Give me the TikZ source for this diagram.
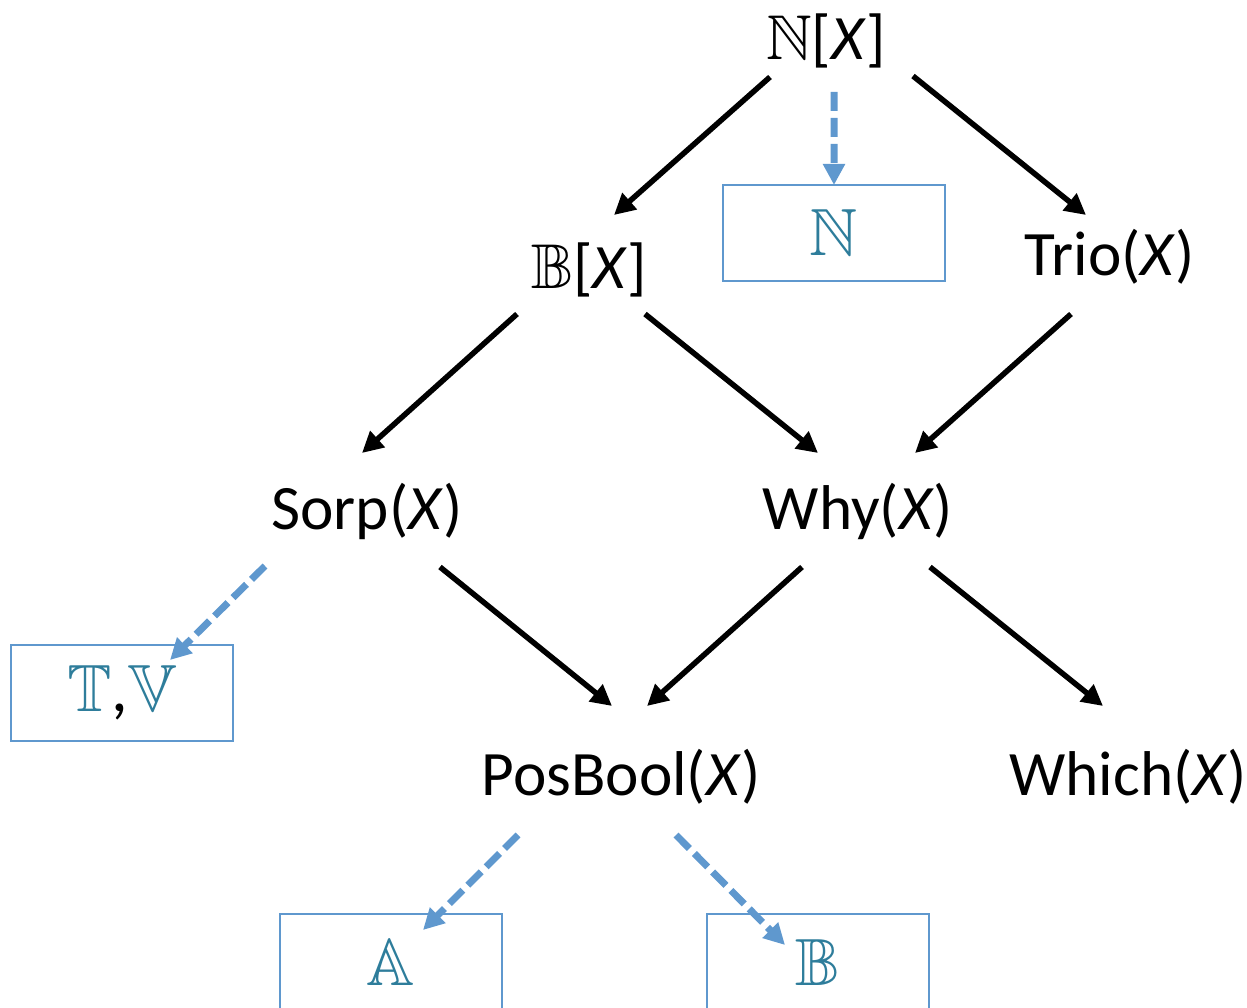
\documentclass[tikz,border=0pt]{standalone}
\usepackage{amssymb}
\usepackage{fontspec}
\setmainfont{Carlito}
\usetikzlibrary{arrows.meta}
\definecolor{lineblue}{RGB}{95,152,206}
\definecolor{textteal}{RGB}{46,125,155}

\begin{document}
\begin{tikzpicture}[inner sep=0, outer sep=0,
    lbl/.style={font=\fontsize{18}{22}\selectfont},
    semibox/.style={rectangle, draw=lineblue, line width=0.02cm,
      minimum width=2.22cm, minimum height=0.96cm,
      text=textteal, font=\fontsize{19}{22}\selectfont},
    arr/.style={-{Triangle[length=0.21cm,width=0.21cm]}, line width=0.055cm, black},
    darr/.style={-{Triangle[length=0.21cm,width=0.21cm]}, line width=0.07cm, lineblue,
      dash pattern=on 0.19cm off 0.07cm}]
  \useasboundingbox (0,0) rectangle (12.47,-10.08);

  \node[lbl] (nx) at (8.26, -0.41) {$\mathbb{N}$[\textit{X}]};
  \node[semibox] (nbox) at (8.34, -2.33) {$\mathbb{N}$};
  \node[lbl] (bx) at (5.89, -2.70) {$\mathbb{B}$[\textit{X}]};
  \node[lbl] (trio) at (11.10, -2.57) {Trio(\textit{X})};
  \node[lbl] (sorp) at (3.67, -5.11) {Sorp(\textit{X})};
  \node[lbl] (why) at (8.58, -5.11) {Why(\textit{X})};
  \node[semibox] (tvbox) at (1.22, -6.93) {$\mathbb{T}${\color{black},}$\mathbb{V}$};
  \node[lbl] (posbool) at (6.21, -7.77) {PosBool(\textit{X})};
  \node[lbl] (which) at (11.28, -7.77) {Which(\textit{X})};
  \node[semibox] (abox) at (3.91, -9.62) {$\mathbb{A}$};
  \node[semibox] (bbox) at (8.18, -9.62) {$\mathbb{B}$};

  % solid arrows
  \draw[arr] ([shift={(-0.56,-0.36)}]nx.center) -- ([shift={(0.25,0.55)}]bx.center);
  \draw[arr] ([shift={(0.87,-0.35)}]nx.center) -- ([shift={(-0.24,0.42)}]trio.center);
  \draw[arr] ([shift={(-0.72,-0.44)}]bx.center) -- ([shift={(-0.05,0.58)}]sorp.center);
  \draw[arr] ([shift={(0.56,-0.44)}]bx.center) -- ([shift={(-0.40,0.58)}]why.center);
  \draw[arr] ([shift={(-0.39,-0.57)}]trio.center) -- ([shift={(0.57,0.58)}]why.center);
  \draw[arr] ([shift={(0.73,-0.56)}]sorp.center) -- ([shift={(-0.09,0.71)}]posbool.center);
  \draw[arr] ([shift={(-0.56,-0.56)}]why.center) -- ([shift={(0.26,0.71)}]posbool.center);
  \draw[arr] ([shift={(0.72,-0.56)}]why.center) -- ([shift={(-0.25,0.71)}]which.center);

  % dashed arrows to the boxes
  \draw[darr] ([shift={(0.08,-0.51)}]nx.center) -- (nbox.north);
  \draw[darr] ([shift={(-1.02,-0.55)}]sorp.center) -- ([shift={(0.48,0.33)}]tvbox.center);
  \draw[darr] ([shift={(-1.03,-0.58)}]posbool.center) -- ([shift={(0.32,0.32)}]abox.center);
  \draw[darr] ([shift={(0.55,-0.58)}]posbool.center) -- ([shift={(-0.33,0.17)}]bbox.center);
\end{tikzpicture}
\end{document}
